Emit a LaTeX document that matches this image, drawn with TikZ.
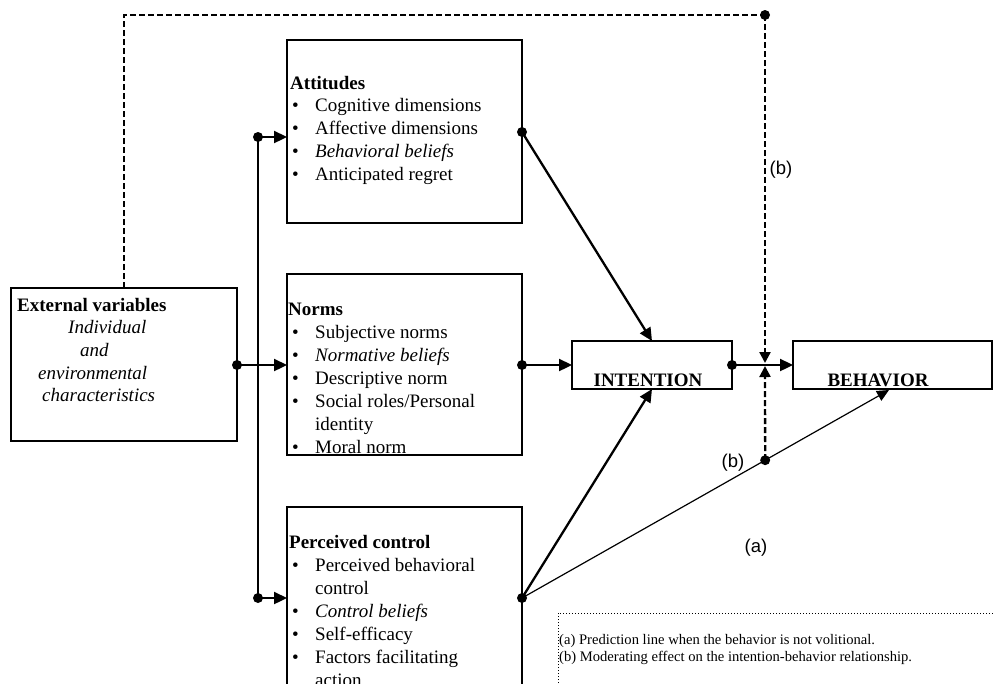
\documentclass[tikz,border=0pt]{standalone}
\usepackage{fontspec}
\setmainfont{Liberation Serif}
\newfontfamily\lblfont{Liberation Sans}
\usetikzlibrary{arrows.meta,calc}
\begin{document}
\begin{tikzpicture}[x=1pt,y=-1pt,
  boxnode/.style={draw,line width=2.4pt,rectangle,inner sep=0pt,outer sep=0pt,anchor=north west},
  txt/.style={inner sep=0pt,anchor=base west,font=\fontsize{19}{23}\selectfont},
  ttl/.style={txt,font=\fontsize{19}{23}\selectfont\bfseries},
  itx/.style={txt,font=\fontsize{19}{23}\selectfont\itshape},
  lbl/.style={inner sep=0pt,font=\fontsize{18.5}{22}\lblfont},
  legend/.style={inner sep=0pt,anchor=base west,font=\fontsize{14.6}{17}\selectfont},
  dotmark/.style={circle,fill,inner sep=0pt,minimum size=10pt},
  thickarrow/.style={line width=2.3pt,-{Triangle[length=13pt,width=12pt]}},
  thinarrow/.style={line width=1.2pt,-{Triangle[length=12pt,width=11pt]}},
  thinline/.style={line width=1.2pt},
  dashline/.style={line width=2.3pt,dash pattern=on 6pt off 3pt},
  dasharrow/.style={dashline,-{Triangle[length=11pt,width=11pt]}},
  dotline/.style={line width=1pt,dash pattern=on 1pt off 2pt}
]
\useasboundingbox (0,0) rectangle (995,683);
\clip (0,0) rectangle (995,683);

% boxes
\node[boxnode,minimum width=226pt,minimum height=153pt] (ext) at (11,288) {};
\node[boxnode,minimum width=235pt,minimum height=183pt] (att) at (287,40) {};
\node[boxnode,minimum width=235pt,minimum height=181pt] (nor) at (287,274) {};
\node[boxnode,minimum width=235pt,minimum height=230pt] (pc) at (287,507) {};
\node[boxnode,minimum width=160pt,minimum height=48pt] (int) at (572,341) {};
\node[boxnode,minimum width=199pt,minimum height=48pt] (beh) at (793,341) {};

% External text
\node[ttl] (ext1) at (17,311) {External variables};
\node[itx] (ext2) at (68,333) {Individual};
\node[itx] (ext3) at (80,356) {and};
\node[itx] (ext4) at (38,379) {environmental};
\node[itx] (ext5) at (42,401) {characteristics};

% Attitudes text
\node[ttl] (att0) at (290,89) {Attitudes};
\node[txt] (att1) at (292,111) {\makebox[23pt][l]{\textbullet}Cognitive dimensions};
\node[txt] (att2) at (292,134) {\makebox[23pt][l]{\textbullet}Affective dimensions};
\node[txt] (att3) at (292,157) {\makebox[23pt][l]{\textbullet}\textit{Behavioral beliefs}};
\node[txt] (att4) at (292,180) {\makebox[23pt][l]{\textbullet}Anticipated regret};

% Norms text
\node[ttl] (nor0) at (288,315) {Norms};
\node[txt] (nor1) at (292,338) {\makebox[23pt][l]{\textbullet}Subjective norms};
\node[txt] (nor2) at (292,361) {\makebox[23pt][l]{\textbullet}\textit{Normative beliefs}};
\node[txt] (nor3) at (292,384) {\makebox[23pt][l]{\textbullet}Descriptive norm};
\node[txt] (nor4) at (292,407) {\makebox[23pt][l]{\textbullet}Social roles/Personal};
\node[txt] (nor5) at (292,430) {\makebox[23pt][l]{}identity};
\node[txt] (nor6) at (292,453) {\makebox[23pt][l]{\textbullet}Moral norm};

% Perceived control text
\node[ttl] (pc0) at (289,548) {Perceived control};
\node[txt] (pc1) at (292,571) {\makebox[23pt][l]{\textbullet}Perceived behavioral};
\node[txt] (pc2) at (292,594) {\makebox[23pt][l]{}control};
\node[txt] (pc3) at (292,617) {\makebox[23pt][l]{\textbullet}\textit{Control beliefs}};
\node[txt] (pc4) at (292,640) {\makebox[23pt][l]{\textbullet}Self-efficacy};
\node[txt] (pc5) at (292,663) {\makebox[23pt][l]{\textbullet}Factors facilitating};
\node[txt] (pc6) at (292,686) {\makebox[23pt][l]{}action};

% Intention / Behavior text
\node[ttl,anchor=base] (intt) at (648,386) {INTENTION};
\node[ttl,anchor=base] (beht) at (878,386) {BEHAVIOR};

% coordinates
\coordinate (extR) at (237,365);
\coordinate (vTop) at (258,137);
\coordinate (vBot) at (258,598);
\coordinate (attR) at (522,132);
\coordinate (pcR) at (522,598);
\coordinate (corner) at (765,15);
\coordinate (downTip) at (765,363);
\coordinate (upTip) at (765,366);
\coordinate (behB) at (889,390);
\coordinate (bdot) at ($(pcR)!0.6626!(behB)$);
\coordinate (legTL) at (558,613);
\coordinate (legTR) at (995,613);
\coordinate (legBL) at (558,683);

% connectors
\draw[thinline] (vTop) -- (vBot);
\draw[thickarrow] (vTop) -- (att.west |- vTop);
\draw[thickarrow] (vBot) -- (pc.west |- vBot);
\draw[thickarrow] (extR) -- (nor.west |- extR);
\draw[thickarrow] (attR) -- (int.north);
\draw[thickarrow] (nor.east |- extR) -- (int.west |- extR);
\draw[thickarrow] (pcR) -- (int.south);
\draw[thinarrow] (pcR) -- (behB);
\draw[thickarrow] (int.east |- extR) -- (beh.west |- extR);
\draw[dashline] (ext.north) -- (ext.north |- corner) -- (corner);
\draw[dasharrow] (corner) -- (downTip);
\draw[dasharrow] (bdot) -- (upTip);

% dots
\node[dotmark] (d1) at (extR) {};
\node[dotmark] (d2) at (vTop) {};
\node[dotmark] (d3) at (vBot) {};
\node[dotmark] (d4) at (attR) {};
\node[dotmark] (d5) at (nor.east |- extR) {};
\node[dotmark] (d6) at (pcR) {};
\node[dotmark] (d7) at (int.east |- extR) {};
\node[dotmark] (d8) at (corner) {};
\node[dotmark] (d9) at (bdot) {};

% labels
\node[lbl] (lb1) at (781,170) {(b)};
\node[lbl] (lb2) at (733,463) {(b)};
\node[lbl] (la) at (756,548) {(a)};

% legend
\draw[dotline] (legBL) -- (legTL) -- (legTR);
\node[legend] (leg1) at (559,644) {(a) Prediction line when the behavior is not volitional.};
\node[legend] (leg2) at (559,661) {(b) Moderating effect on the intention-behavior relationship.};
\end{tikzpicture}
\end{document}
